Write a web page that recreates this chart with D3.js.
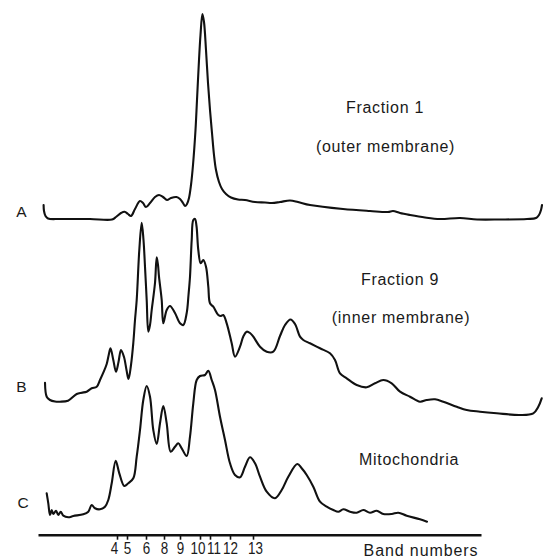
<!DOCTYPE html>
<html><head><meta charset="utf-8">
<script src="https://cdn.jsdelivr.net/npm/d3@7"></script>
<style>
body{margin:0;background:#fff}
text{font-family:"Liberation Sans",Arial,sans-serif;fill:#1a1a1a}
</style>
</head><body>
<svg id="chart" width="543" height="558"></svg>
<script>
// Densitometer scans: [scan position, optical density] (arbitrary units)
const traceA = [[5.6,15],[6,9],[7.5,4],[10,1.5],[22,1],[52,1],[74,0.5],[78,3],[83,7],[86.6,8.3],[90,6],[93,4],[97,11],[102,19],[105,17],[108,13],[112,17],[117,23],[121,25],[125,23],[129,20],[133,22],[138.5,23],[142,21],[145,17],[147,14],[149,16],[151,22],[153,35],[155,55],[157.5,90],[159,120],[161,160],[162.5,185],[164.4,206],[166,198],[168,170],[170,137],[172,110],[174,87],[176,65],[178,50],[181,38],[184,31],[188,26],[193,22.5],[200,20.5],[207,20],[217,18],[227,17.5],[234,17],[242,18],[252,19.5],[260,18],[272,15],[305,11],[332,9],[350,8],[355,9],[362,7],[372,5],[387,2.5],[402,1],[422,2],[439,0.5],[462,0.5],[489,1],[498,2],[501,5],[503,10],[504,15]];

const traceB = [[7,33.3],[8.7,19.3],[12,16],[17,14.5],[22,14.3],[30,15.3],[38.7,22],[43.7,23.3],[48.7,24.3],[53.7,27.7],[58.7,29.3],[62,36],[65.3,43.3],[68.7,52],[70.7,61],[72.5,67.7],[75.3,56],[78,44.3],[80.5,54],[83,66],[86,59],[88.5,46],[90.5,37],[93,51],[95.3,73],[97,96],[98.7,116],[101.3,166],[103.7,193.3],[105.5,176],[107,149.3],[108.7,116],[110.3,84.3],[112,91],[113.7,106],[117,133],[118.7,158.7],[120,151],[121,139.3],[123.7,116],[125.3,92.7],[128.7,106],[132,110],[137,103],[142,92.7],[145.3,91],[148.7,103],[150.5,121],[152,139.3],[153.7,176],[155.3,196],[157,197],[158.5,190],[160.3,166],[162.7,152.7],[165.3,156],[168,149.3],[170.3,129.3],[172,112.7],[175.3,109.3],[180.3,101],[183,100],[185.3,101],[188.7,92.7],[193.7,72.7],[197,59.3],[202,69.3],[205.5,80],[208.7,84.3],[212,83],[215.3,79.3],[222,69.3],[228.7,64.3],[235.3,64.3],[242,80],[247,91],[252.5,96.5],[257,92],[262,79.3],[265.3,76],[272,72.7],[282,67.7],[292,62.7],[297,56],[302,42.7],[308.7,37.7],[318.7,31],[328.7,28.7],[337,32.7],[345.3,36],[353.7,32.7],[362,24.3],[372,19.3],[382,14.3],[388.7,16],[397,16.7],[405.3,14.3],[418.7,9.3],[428.7,6],[442,4.3],[458.7,2.7],[482,1],[495.3,2.7],[500.3,9.3],[503.7,17.7]];

const traceC = [[8.7,28.7],[10.3,18.7],[12,7],[13.7,12],[15.3,8],[18,11.3],[20.3,7],[22.7,10.3],[25.3,6.3],[30.3,4.7],[35.3,6],[45.3,7.7],[50.3,10.3],[53.7,17],[57,13.7],[62,12.7],[67,15.3],[70.3,22],[73.7,38.7],[77.7,61.3],[81.3,48.7],[86.3,36],[90.3,38.7],[95.3,43.7],[98.7,65.3],[102,92],[105.3,122],[108.7,136],[112,125.3],[115.3,92],[118.7,78],[122,98.7],[125.3,116],[128.7,98.7],[132.7,70.3],[137,75.3],[140.3,78.7],[143.7,73.7],[148.7,66],[152,85.3],[155.3,118.7],[158.7,142],[162,146],[167,147],[170.3,151.3],[173.7,142],[177,132],[182,105.3],[187,82],[192,58.7],[197,47],[202,44.7],[207,55.3],[212,64.7],[217,58.7],[222,45.3],[228.7,30.3],[237,23.7],[243.7,32],[250.3,45.3],[259.3,58],[263.7,53.7],[268.7,47],[275.3,35.3],[282,20.3],[288.7,15.3],[295.3,12],[300.3,10.3],[305.3,12.7],[312,10.3],[318.7,9.3],[325.3,12],[332,9.3],[338.7,11.3],[345.3,8],[353.7,8],[360.3,9.3],[368.7,6.3],[382,2.7],[389,0.3]];

const bandNumbers   = ["4","5","6","8","9","10","11","12","13"];
const bandPositions = [79, 89, 108, 126, 142, 162, 172, 192, 215];
const traceLetters  = ["A","B","C"];
const traceTitles   = [["Fraction 1","(outer membrane)"],["Fraction 9","(inner membrane)"],["Mitochondria"]];
const axisTitle     = "Band numbers";

// ---- layout ----
const svg = d3.select("#chart");
const x = d3.scaleLinear().domain([0,505]).range([38,543]);
const baselines = [220, 416, 522];
const traces = [traceA, traceB, traceC];

const line = d3.line().curve(d3.curveCatmullRom.alpha(0.5));

traces.forEach((t,i) => {
  const y = d3.scaleLinear().domain([0,206]).range([baselines[i], baselines[i]-206]);
  svg.append("path")
    .attr("d", line.x(d=>x(d[0])).y(d=>y(d[1]))(t))
    .attr("fill","none").attr("stroke","#111").attr("stroke-width",2.1)
    .attr("stroke-linejoin","round").attr("stroke-linecap","round");
});

// trace letters
const letterPos = [[21.5,217],[21.5,392],[23,507.5]];
traceLetters.forEach((l,i)=>{
  svg.append("text").attr("x",letterPos[i][0]).attr("y",letterPos[i][1])
    .attr("text-anchor","middle").style("font-size","15.5px").text(l);
});

// titles
const titlePos = [[[385,113],[385.5,152]],[[400,285],[401,322.5]],[[409,465]]];
traceTitles.forEach((lines,i)=>{
  lines.forEach((s,j)=>{
    svg.append("text").attr("x",titlePos[i][j][0]).attr("y",titlePos[i][j][1])
      .attr("text-anchor","middle").style("font-size","16px").style("letter-spacing","0.7px").text(s);
  });
});

// band axis
const xAxisScale = d3.scaleLinear().domain([0,443]).range([38,481]);
const axis = d3.axisBottom(xAxisScale)
  .tickValues(bandPositions)
  .tickFormat((d,i)=>bandNumbers[i])
  .tickSizeInner(5).tickSizeOuter(0).tickPadding(3);
const g = svg.append("g").attr("transform","translate(0,534.7)").call(axis);
g.select(".domain").attr("stroke","#111").attr("stroke-width",2.4);
g.selectAll(".tick line").attr("stroke","#111").attr("stroke-width",1.6);
const nudge = {"4":-3,"10":-2.5,"11":3.5,"13":2};
g.selectAll(".tick text").attr("fill","#1a1a1a")
  .style("font-family","'Liberation Sans',Arial,sans-serif").style("font-size","16px")
  .attr("transform",(d,i)=>`translate(${nudge[bandNumbers[i]]||0},0) scale(0.84,1)`);

svg.append("text").attr("x",421).attr("y",556).attr("text-anchor","middle")
  .style("font-size","16px").style("letter-spacing","0.9px").text(axisTitle);
</script>
</body></html>
